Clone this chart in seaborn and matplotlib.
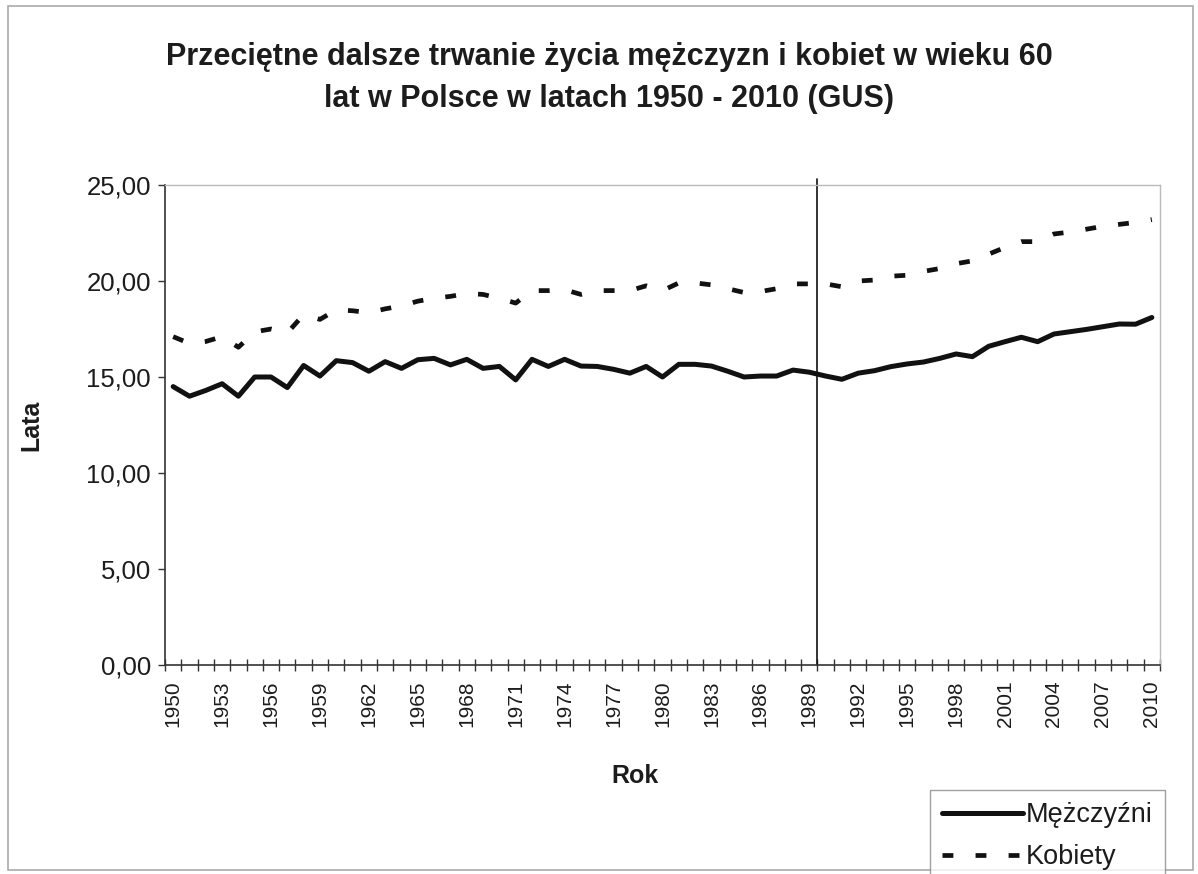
import numpy as np
import pandas as pd
import matplotlib
matplotlib.use("Agg")
import matplotlib.pyplot as plt
from matplotlib.ticker import FuncFormatter, MultipleLocator, FixedLocator
from matplotlib.patches import Rectangle
import seaborn as sns

sns.set_style("white")
plt.rcParams["font.family"] = ["Liberation Sans", "DejaVu Sans"]

# ── dane ──────────────────────────────────────────────────────────────────────
YEARS = list(range(1950, 2011))
MEN = [
    14.5, 14.0, 14.3, 14.65, 14.0, 15.0, 15.0, 14.45, 15.6, 15.05,
    15.85, 15.75, 15.3, 15.8, 15.45, 15.9, 15.97, 15.63, 15.92, 15.45,
    15.55, 14.85, 15.92, 15.55, 15.92, 15.57, 15.55, 15.4, 15.2, 15.55,
    15.0, 15.66, 15.66, 15.57, 15.3, 15.0, 15.05, 15.05, 15.36, 15.25,
    15.05, 14.88, 15.2, 15.33, 15.54, 15.68, 15.78, 15.97, 16.2, 16.06,
    16.6, 16.84, 17.07, 16.84, 17.24, 17.36, 17.48, 17.62, 17.76, 17.75,
    18.1,
]
WOMEN = [
    17.1, 16.75, 16.85, 17.1, 16.55, 17.35, 17.5, 17.3, 18.25, 18.0,
    18.5, 18.45, 18.35, 18.55, 18.7, 18.95, 19.1, 19.2, 19.35, 19.3,
    19.1, 18.85, 19.5, 19.5, 19.55, 19.3, 19.5, 19.5, 19.5, 19.75,
    19.5, 19.9, 19.9, 19.8, 19.6, 19.4, 19.45, 19.6, 19.85, 19.85,
    19.85, 19.7, 20.0, 20.05, 20.25, 20.3, 20.5, 20.65, 20.9, 21.05,
    21.4, 21.75, 22.05, 22.05, 22.45, 22.55, 22.7, 22.85, 22.95, 23.05,
    23.2,
]
LABEL_YEARS = list(range(1950, 2011, 3))
MARK_YEAR = 1989.5
TITLE = ("Przeciętne dalsze trwanie życia mężczyzn i kobiet w wieku 60\n"
         "lat w Polsce w latach 1950 - 2010 (GUS)")

df = pd.DataFrame({"Rok": YEARS, "Mężczyźni": MEN, "Kobiety": WOMEN})

TXT = "#1c1c1c"

fig = plt.figure(figsize=(11.98, 8.74), dpi=100)
W, H = 1198, 874
ax = fig.add_axes([165 / W, 1 - 665 / H, (1160 - 165) / W, (665 - 185) / H])

sns.lineplot(data=df, x="Rok", y="Mężczyźni", ax=ax, color="#111111",
             linewidth=3.6, label="Mężczyźni")
sns.lineplot(data=df, x="Rok", y="Kobiety", ax=ax, color="#111111",
             linewidth=3.4, linestyle=(0, (2.3, 4.7)), label="Kobiety")

ax.axvline(MARK_YEAR, ymin=0, ymax=1.012, color="#111111", linewidth=1.2,
           clip_on=False)

ax.set_xlim(YEARS[0] - 0.5, YEARS[-1] + 0.5)
ax.set_ylim(0, 25)
ax.yaxis.set_major_locator(MultipleLocator(5))
ax.yaxis.set_major_formatter(FuncFormatter(lambda v, p: f"{v:.2f}".replace(".", ",")))
ax.xaxis.set_major_locator(FixedLocator(LABEL_YEARS))
ax.xaxis.set_minor_locator(FixedLocator([y - 0.5 for y in YEARS] + [YEARS[-1] + 0.5]))
ax.set_xticklabels([str(y) for y in LABEL_YEARS], rotation=90)

ax.tick_params(axis="x", which="major", length=0, pad=11, labelsize=15, labelcolor=TXT)
ax.tick_params(axis="x", which="minor", length=8, width=1, direction="inout",
               color="#333333", bottom=True)
ax.tick_params(axis="y", which="major", length=5, width=1, direction="out",
               color="#333333", left=True, labelsize=18.5, labelcolor=TXT, pad=5)

for side in ["left", "bottom"]:
    ax.spines[side].set_color("#333333")
    ax.spines[side].set_linewidth(1.2)
for side in ["top", "right"]:
    ax.spines[side].set_color("#bbbbbb")
    ax.spines[side].set_linewidth(1.0)

ax.set_xlabel("Rok", fontsize=18, fontweight="bold", color=TXT)
ax.set_ylabel("Lata", fontsize=18, fontweight="bold", color=TXT)
ax.xaxis.set_label_coords((635 - 165) / 995, (665 - 764) / 480)
ax.yaxis.set_label_coords((43 - 165) / 995, 0.5)

fig.text(609 / W, 1 - 78 / H, TITLE, ha="center", va="center",
         fontsize=22, fontweight="bold", color=TXT, linespacing=1.5)

handles, labels = ax.get_legend_handles_labels()
ax.get_legend().remove()
leg = fig.legend(handles, labels, loc="upper left",
                 bbox_to_anchor=(930 / W, 1 - 790 / H), fontsize=19.5,
                 frameon=True, fancybox=False, edgecolor="#888888",
                 handlelength=3.0, handletextpad=0.1, borderpad=0.45,
                 labelspacing=0.6, borderaxespad=0)
leg.get_frame().set_linewidth(1.0)
for t in leg.get_texts():
    t.set_color(TXT)

# ramka wykresu
fig.patches.append(Rectangle((8 / W, 4 / H), (1193 - 8) / W, (868 - 4) / H,
                             transform=fig.transFigure, fill=False,
                             edgecolor="#aaaaaa", linewidth=1.2))

fig.savefig("out.png", dpi=100)
